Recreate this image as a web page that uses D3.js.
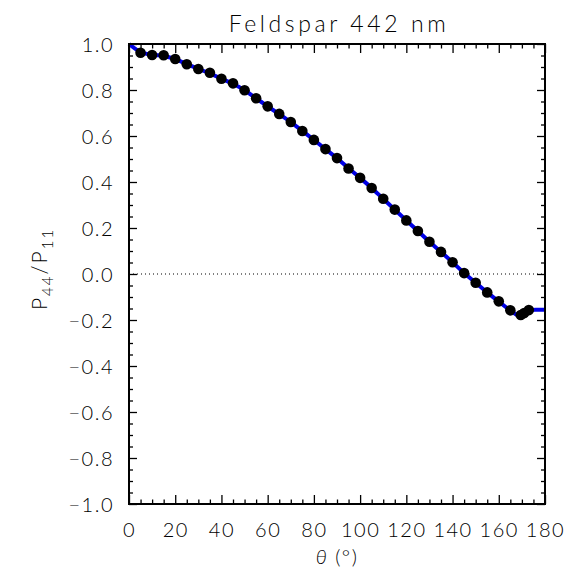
<!DOCTYPE html>
<html>
<head>
<meta charset="utf-8">
<script src="https://cdn.jsdelivr.net/npm/d3@7"></script>
<style>
  body { margin: 0; background: #fff; }
  text { font-family: 'Lato', 'DejaVu Sans', sans-serif; font-weight: 300; fill: #000; }
</style>
</head>
<body>
<script>
// Measured points (angle in degrees, P44/P11).
const dotAngles = [5, 10, 15, 20, 25, 30, 35, 40, 45, 50, 55, 60, 65, 70, 75, 80, 85, 90,
                   95, 100, 105, 110, 115, 120, 125, 130, 135, 140, 145, 150, 155, 160, 165,
                   169.5, 171, 173];
const dotValues = [0.962, 0.952, 0.951, 0.935, 0.912, 0.891, 0.875, 0.849, 0.829, 0.799, 0.764,
                   0.729, 0.696, 0.661, 0.622, 0.583, 0.543, 0.504, 0.459, 0.418, 0.374, 0.327,
                   0.280, 0.233, 0.187, 0.140, 0.096, 0.051, 0.004, -0.038, -0.080, -0.119,
                   -0.158, -0.178, -0.170, -0.157];

// Fitted curve.
const lineAngles = [0, 5, 10, 15, 20, 25, 30, 35, 40, 45, 50, 55, 60, 65, 70, 75, 80, 85, 90,
                    95, 100, 105, 110, 115, 120, 125, 130, 135, 140, 145, 150, 155, 160, 165,
                    170, 173, 176, 180];
const lineValues = [1.0, 0.965, 0.953, 0.948, 0.934, 0.913, 0.892, 0.872, 0.849, 0.827, 0.799,
                    0.764, 0.729, 0.695, 0.660, 0.622, 0.583, 0.543, 0.503, 0.460, 0.418, 0.374,
                    0.327, 0.280, 0.233, 0.187, 0.140, 0.096, 0.051, 0.004, -0.038, -0.080,
                    -0.120, -0.158, -0.187, -0.157, -0.155, -0.155];

const xTicks = d3.range(0, 181, 20);
const yTicks = d3.range(-1, 1.001, 0.2).map(d => +d.toFixed(1));

const W = 576, H = 575;
const plot = { left: 129, right: 545, top: 44, bottom: 504 };

const svg = d3.select('body').append('svg')
    .attr('width', W)
    .attr('height', H);

const x = d3.scaleLinear().domain([0, 180]).range([plot.left, plot.right]);
const y = d3.scaleLinear().domain([-1, 1]).range([plot.bottom, plot.top]);

const xMinor = d3.range(0, 181, 5).filter(d => d % 20 !== 0);
const yMinor = d3.range(-1, 1.001, 0.05).filter(d => Math.abs(Math.round(d * 5) - d * 5) > 0.01);

const fmt = d => (d < 0 ? '\u2212' : '') + Math.abs(d).toFixed(1);

// Axes: bottom/top, left/right with major and minor ticks.
function addAxes() {
    const axes = [
        { gen: d3.axisBottom(x), t: `translate(0,${plot.bottom})`, len: 9, lab: true, minor: xMinor, major: xTicks, scale: x },
        { gen: d3.axisTop(x), t: `translate(0,${plot.top})`, len: 9, lab: false, minor: xMinor, major: xTicks, scale: x },
        { gen: d3.axisLeft(y), t: `translate(${plot.left},0)`, len: 8, lab: true, minor: yMinor, major: yTicks, scale: y },
        { gen: d3.axisRight(y), t: `translate(${plot.right},0)`, len: 8, lab: false, minor: yMinor, major: yTicks, scale: y }
    ];
    axes.forEach(a => {
        // minor ticks
        svg.append('g')
            .attr('transform', a.t)
            .call(a.gen.tickValues(a.minor).tickSize(-a.len / 2).tickFormat('').tickSizeOuter(0))
            .call(g => g.select('.domain').remove())
            .selectAll('line').attr('stroke', '#000').attr('stroke-width', 1.3);
        // major ticks
        const isX = a.scale === x;
        const g = svg.append('g')
            .attr('transform', a.t)
            .call(a.gen.tickValues(a.major).tickSize(-a.len).tickSizeOuter(0)
                .tickPadding(isX ? a.len + 10 : a.len + 7)
                .tickFormat(a.lab ? (isX ? d3.format('d') : fmt) : ''));
        g.select('.domain').remove();
        g.selectAll('line').attr('stroke', '#000').attr('stroke-width', 1.3);
        g.selectAll('text')
            .attr('font-family', null).attr('font-size', null)
            .style('font-size', '20px')
            .style('letter-spacing', '1.5px');
        if (!isX) g.selectAll('text').attr('dy', '0.38em');
    });
}
addAxes();

// Zero line.
svg.append('line')
    .attr('x1', x(0)).attr('x2', x(180))
    .attr('y1', y(0)).attr('y2', y(0))
    .attr('stroke', '#000')
    .attr('stroke-width', 1.2)
    .attr('stroke-dasharray', '1,3');

// Blue fitted curve.
const line = d3.line()
    .x((d, i) => x(lineAngles[i]))
    .y(d => y(d))
    .curve(d3.curveMonotoneX);

svg.append('path')
    .datum(lineValues)
    .attr('d', line)
    .attr('fill', 'none')
    .attr('stroke', '#0000e6')
    .attr('stroke-width', 4);

// Measured points.
svg.selectAll('.dot')
    .data(dotValues)
    .join('circle')
        .attr('class', 'dot')
        .attr('cx', (d, i) => x(dotAngles[i]))
        .attr('cy', d => y(d))
        .attr('r', 5.3)
        .attr('fill', '#000');

// Frame.
svg.append('rect')
    .attr('x', plot.left).attr('y', plot.top)
    .attr('width', plot.right - plot.left)
    .attr('height', plot.bottom - plot.top)
    .attr('fill', 'none')
    .attr('stroke', '#000')
    .attr('stroke-width', 2);

// Title.
svg.append('text')
    .attr('x', (plot.left + plot.right) / 2 + 2)
    .attr('y', 32)
    .attr('text-anchor', 'middle')
    .style('font-size', '23px')
    .style('letter-spacing', '3.6px')
    .text('Feldspar 442 nm');

// X title.
const xt = svg.append('text')
    .attr('x', (plot.left + plot.right) / 2)
    .attr('y', 564)
    .attr('text-anchor', 'middle')
    .style('font-size', '20px')
    .style('letter-spacing', '1.5px');
xt.append('tspan').style('font-style', 'italic').text('\u03b8');
xt.append('tspan').text(' (\u00b0)');

// Y title with subscripts.
const yt = svg.append('text')
    .attr('transform', `translate(47,${(plot.top + plot.bottom) / 2 - 5}) rotate(-90)`)
    .attr('text-anchor', 'middle')
    .style('font-size', '21px')
    .style('letter-spacing', '2px');
yt.append('tspan').text('P');
yt.append('tspan').attr('dy', 6).style('font-size', '15px').text('44');
yt.append('tspan').attr('dy', -6).text('/P');
yt.append('tspan').attr('dy', 6).style('font-size', '15px').text('11');
</script>
</body>
</html>
